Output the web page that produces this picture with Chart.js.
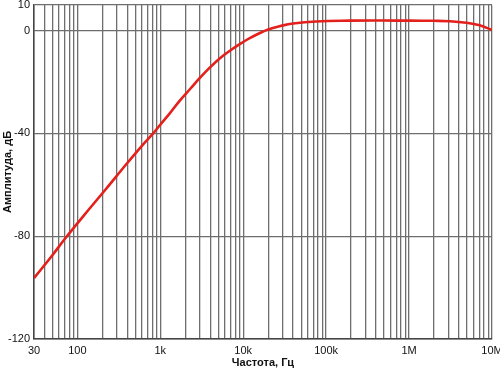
<!DOCTYPE html>
<html>
<head>
<meta charset="utf-8">
<script src="https://cdn.jsdelivr.net/npm/chart.js@4/dist/chart.umd.min.js"></script>
<style>
    html, body { margin: 0; padding: 0; background: #fff; }
    #wrap { width: 500px; height: 371px; }
</style>
</head>
<body>
<div id="wrap"><canvas id="amp"></canvas></div>
<script>
// frequency response
const freqs = [30, 50, 70, 100, 135, 215, 393, 600, 820, 1000, 1300, 1720, 2300, 3000, 4000, 5200, 6900, 10000, 12000, 15000, 20000, 28000, 40000, 76000, 192000, 500000, 1000000, 2000000, 3100000, 4900000, 7100000, 10000000]
const ampDb = [-96.3, -87.4, -81.2, -75.0, -69.9, -62.1, -51.8, -44.8, -40.0, -36.6, -32.2, -27.2, -22.6, -18.4, -14.2, -10.8, -7.8, -4.4, -2.9, -1.3, 0.5, 1.8, 2.8, 3.6, 3.9, 3.95, 3.9, 3.85, 3.7, 3.1, 2.1, 0.3]

const xLabels = { 30: "30", 100: "100", 1000: "1k", 10000: "10k", 100000: "100k", 1000000: "1M", 10000000: "10M" }
const yTicks = [-120, -80, -40, 0, 10]
const decades = [10, 100, 1000, 10000, 100000, 1000000]
const steps = [1, 2, 3, 4, 5, 6, 7, 8, 9]

const xTicks = []
decades.forEach(d => steps.forEach(s => { if (d * s >= 30) xTicks.push(d * s) }))
xTicks.push(10000000)

const font = { family: "'Liberation Sans', Arial, sans-serif", size: 11 }
const gridGray = "#6e6e6e"

new Chart(document.getElementById("amp"), {
    type: "line",
    data: {
        datasets: [
            {
                data: freqs.map((f, i) => ({ x: f, y: ampDb[i] })),
                borderColor: "#e3201b",
                borderWidth: 2.6,
                pointRadius: 0,
                tension: 0.4,
                fill: false
            }
        ]
    },
    options: {
        responsive: true,
        maintainAspectRatio: false,
        animation: false,
        layout: { padding: { top: 5, right: 8, left: 0, bottom: 0 } },
        plugins: { legend: { display: false }, tooltip: { enabled: false } },
        scales: {
            x: {
                type: "logarithmic",
                min: 30,
                max: 10000000,
                afterBuildTicks: scale => { scale.ticks = xTicks.map(v => ({ value: v })) },
                afterFit: scale => { scale.height = 32; scale.paddingLeft = 0; scale.paddingRight = 0 },
                grid: { color: gridGray, lineWidth: 1.3, drawTicks: false },
                border: { color: "#444", width: 1.5 },
                ticks: {
                    autoSkip: false,
                    maxRotation: 0,
                    padding: 5,
                    color: "#111",
                    font,
                    callback: v => xLabels[v] || ""
                },
                title: {
                    display: true,
                    text: "Частота, Гц",
                    color: "#111",
                    font: { ...font, weight: "bold" },
                    padding: { top: 0, bottom: 1 }
                }
            },
            y: {
                min: -120,
                max: 10,
                afterBuildTicks: scale => { scale.ticks = yTicks.map(v => ({ value: v })) },
                afterFit: scale => { scale.width = 34; scale.paddingTop = 0; scale.paddingBottom = 0 },
                grid: { color: gridGray, lineWidth: 1.3, drawTicks: false },
                border: { color: "#444", width: 1.5 },
                ticks: { padding: 4, color: "#111", font },
                title: {
                    display: true,
                    text: "Амплитуда, дБ",
                    color: "#111",
                    font: { ...font, weight: "bold" },
                    padding: { top: 1, bottom: 0 }
                }
            }
        }
    }
})
</script>
</body>
</html>
